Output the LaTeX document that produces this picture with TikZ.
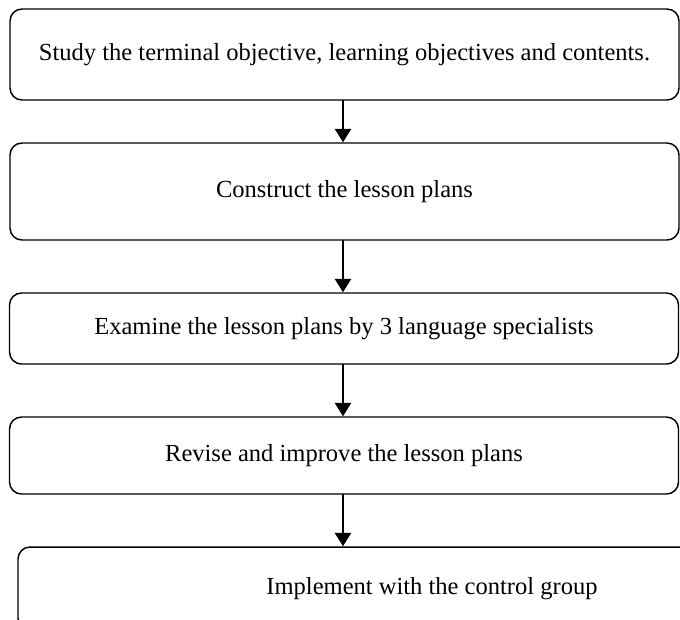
\documentclass[tikz,border=0pt]{standalone}
\usepackage{fontspec}
\setmainfont{Liberation Serif}
\usetikzlibrary{arrows.meta}
\tikzset{
  stepbox/.style={draw=black, line width=1.1pt, rounded corners=9pt, fill=white,
    minimum width=501.75pt, inner sep=0pt, align=center,
    font=\fontsize{18.4}{22}\selectfont},
  flowarrow/.style={-{Triangle[width=12pt, length=10pt]}, line width=1.6pt, black},
}
\begin{document}
\begin{tikzpicture}[x=0.75pt, y=-0.75pt]
    \useasboundingbox (0,0) rectangle (680,619);
    % the steps, top to bottom
    \node[stepbox, minimum height=68.25pt] (study) at (344.5,54.5)
      {Study the terminal objective, learning objectives and contents.};
    \node[stepbox, minimum height=72.75pt] (construct) at (344.5,191.5)
      {Construct the lesson plans};
    \node[stepbox, minimum height=53.25pt] (examine) at (344,328.5)
      {Examine the lesson plans by 3 language specialists};
    \node[stepbox, minimum height=57.75pt] (revise) at (344,455.5)
      {Revise and improve the lesson plans};
    % the last box runs past the right edge of the page
    \node[stepbox, minimum height=62.25pt, minimum width=621pt] (implement) at (432,588.5)
      {Implement with the control group};
    % the connectors
    \coordinate (a1) at (343,100);
    \coordinate (a2) at (343,240);
    \coordinate (a3) at (343,364);
    \coordinate (a4) at (343,494);
    \draw[flowarrow] (a1) -- (a1 |- construct.north);
    \draw[flowarrow] (a2) -- (a2 |- examine.north);
    \draw[flowarrow] (a3) -- (a3 |- revise.north);
    \draw[flowarrow] (a4) -- (a4 |- implement.north);
\end{tikzpicture}
\end{document}
